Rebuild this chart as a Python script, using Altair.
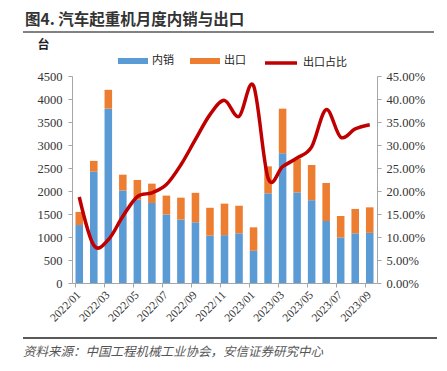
import altair as alt
import pandas as pd

months = ["2022/01", "2022/02", "2022/03", "2022/04", "2022/05", "2022/06", "2022/07",
          "2022/08", "2022/09", "2022/10", "2022/11", "2022/12", "2023/01", "2023/02",
          "2023/03", "2023/04", "2023/05", "2023/06", "2023/07", "2023/08", "2023/09"]
domestic = [1260, 2420, 3790, 2010, 1810, 1740, 1490, 1380, 1320, 1030, 1040, 1080,
            700, 1950, 2820, 1970, 1800, 1350, 990, 1080, 1090]
export = [285, 235, 410, 345, 430, 420, 410, 475, 640, 605, 685, 600,
          510, 585, 970, 730, 765, 825, 467, 530, 555]
share = [0.187, 0.082, 0.094, 0.145, 0.188, 0.196, 0.214, 0.257, 0.312, 0.366, 0.397, 0.362,
         0.429, 0.228, 0.253, 0.272, 0.296, 0.377, 0.317, 0.335, 0.344]
odd_months = months[::2]

BLUE = "#5B9BD5"
ORANGE = "#ED7D31"
RED = "#C00000"
SERIF = "'Liberation Serif', 'DejaVu Serif', serif"
CJK = "Noto Sans CJK SC"

rows = []
for m, d, e in zip(months, domestic, export):
    rows.append({"month": m, "type": "内销", "value": d, "ord": 0})
    rows.append({"month": m, "type": "出口", "value": e, "ord": 1})
bars_df = pd.DataFrame(rows)
line_df = pd.DataFrame({"month": months, "share": share, "s": ["出口占比"] * len(months)})

x_enc = alt.X("month:N", sort=months,
              scale=alt.Scale(paddingInner=0.48, paddingOuter=0.24),
              axis=alt.Axis(values=odd_months, bandPosition=0, labelAngle=-45,
                            labelAlign="right", labelBaseline="middle",
                            labelFont=SERIF, labelFontSize=11.5, labelColor="#333",
                            labelPadding=6, domainColor="#A6A6A6", tickColor="#A6A6A6",
                            tickSize=4, title=None))

bars = alt.Chart(bars_df).mark_bar().encode(
    x=x_enc,
    y=alt.Y("value:Q", stack="zero",
            scale=alt.Scale(domain=[0, 4500], nice=False),
            axis=alt.Axis(values=list(range(0, 4501, 500)), format="d", grid=False, title="台",
                          titleAngle=0, titleFont=CJK, titleFontSize=12, titleFontWeight="bold",
                          titleColor="#222", titleX=-29, titleY=-25, titleAlign="center",
                          labelFont=SERIF, labelFontSize=12.5, labelColor="#333",
                          domainColor="#A6A6A6", tickColor="#A6A6A6", tickSize=4,
                          labelPadding=6)),
    color=alt.Color("type:N", sort=["内销", "出口"],
                    scale=alt.Scale(domain=["内销", "出口"], range=[BLUE, ORANGE]),
                    legend=alt.Legend(title=None, orient="none", direction="horizontal",
                                      legendX=46, legendY=-30, padding=0,
                                      symbolType="M-1,-0.2H1V0.2H-1Z", symbolSize=900,
                                      symbolStrokeWidth=0, labelFont=CJK, labelFontSize=11,
                                      labelColor="#222", labelOffset=4, columnPadding=16)),
    order=alt.Order("ord:Q"),
)

line = alt.Chart(line_df).mark_line(strokeWidth=3.5, interpolate="cardinal").encode(
    x=alt.X("month:N", sort=months),
    y=alt.Y("share:Q", scale=alt.Scale(domain=[0, 0.45], nice=False),
            axis=alt.Axis(orient="right", values=[i * 0.05 for i in range(10)], format=".2%",
                          grid=False, title=None, labelFont=SERIF, labelFontSize=12.5,
                          labelColor="#333", domainColor="#A6A6A6", tickColor="#A6A6A6",
                          tickSize=4, labelPadding=5)),
    stroke=alt.Stroke("s:N", scale=alt.Scale(domain=["出口占比"], range=[RED]),
                      legend=alt.Legend(title=None, orient="none", legendX=191, legendY=-31,
                                        padding=0, symbolType="stroke", symbolSize=1024,
                                        symbolStrokeWidth=3.5, labelFont=CJK, labelFontSize=11,
                                        labelColor="#222", labelOffset=4)),
)

deco_df = pd.DataFrame({"k": [0]})
title_txt = alt.Chart(deco_df).mark_text(
    text="图4. 汽车起重机月度内销与出口", font=CJK, fontSize=15.5, fontWeight="bold",
    color="#333", align="left", baseline="middle"
).encode(x=alt.value(-47), y=alt.value(-56))
top_rule = alt.Chart(deco_df).mark_rule(color="#595959", strokeWidth=1.5).encode(
    x=alt.value(-49), x2=alt.value(362), y=alt.value(-44))
bottom_rule = alt.Chart(deco_df).mark_rule(color="#222", strokeWidth=1.5).encode(
    x=alt.value(-49), x2=alt.value(367), y=alt.value(262))
source_txt = alt.Chart(deco_df).mark_text(
    text="资料来源：中国工程机械工业协会，安信证券研究中心", font=CJK, fontSize=12.5,
    fontStyle="italic", color="#555", align="left", baseline="middle"
).encode(x=alt.value(-49), y=alt.value(276))

chart = alt.layer(bars, line, title_txt, top_rule, bottom_rule, source_txt).resolve_scale(
    y="independent", color="independent"
).properties(
    width=305, height=207,
    autosize=alt.AutoSizeParams(type="none"),
    padding={"left": 64, "top": 68, "right": 60, "bottom": 80},
).configure_view(stroke=None)

chart.save("out.html", embed_options={"renderer": "svg", "actions": False})
